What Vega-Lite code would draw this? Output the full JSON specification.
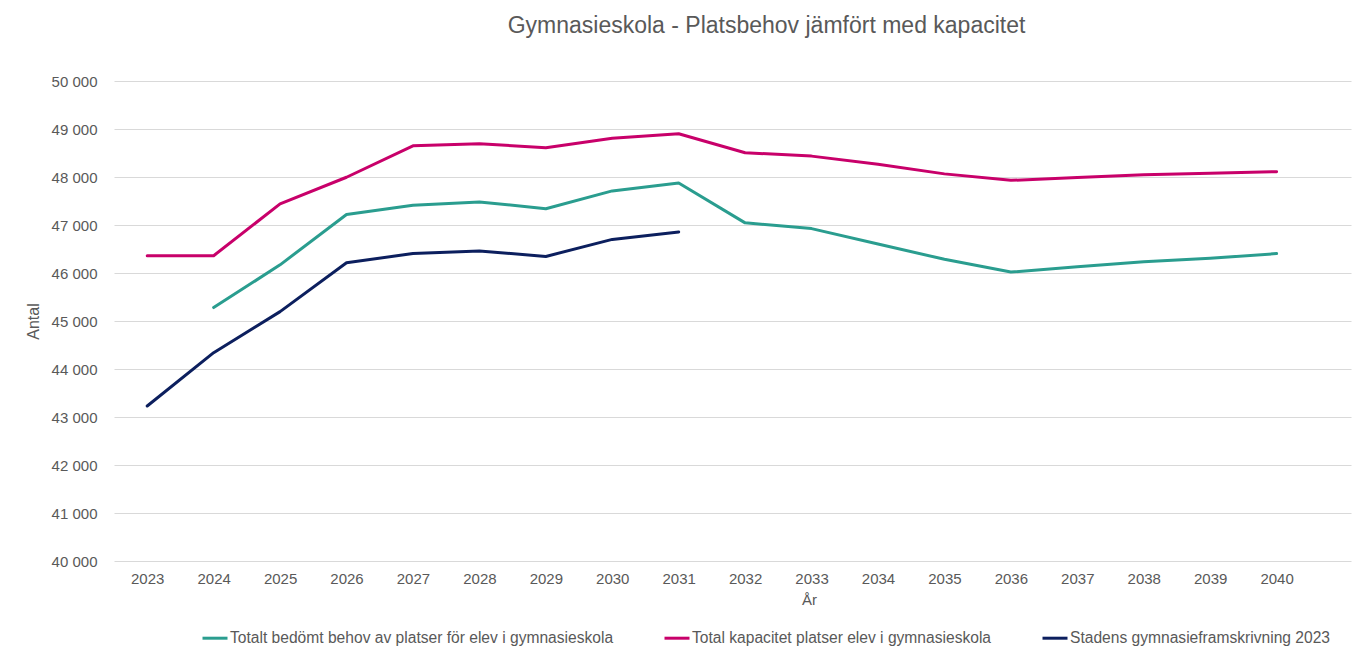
{
  "$schema": "https://vega.github.io/schema/vega-lite/v6.json",
  "width": 1237,
  "height": 480,
  "autosize": {"type": "none"},
  "padding": {"left": 114, "top": 81, "right": 6, "bottom": 88},
  "background": "white",
  "config": {
    "font": "Liberation Sans",
    "view": {"stroke": null}
  },
  "title": {
    "text": "Gymnasieskola - Platsbehov jämfört med kapacitet",
    "anchor": "middle",
    "frame": "group",
    "dx": 34,
    "offset": 36,
    "fontSize": 23,
    "fontWeight": "normal",
    "color": "#595959",
    "font": "Liberation Sans"
  },
  "data": {
    "values": [
      {"year": 2023, "serie": "Total kapacitet platser elev i gymnasieskola", "value": 46360},
      {"year": 2024, "serie": "Total kapacitet platser elev i gymnasieskola", "value": 46360},
      {"year": 2025, "serie": "Total kapacitet platser elev i gymnasieskola", "value": 47440},
      {"year": 2026, "serie": "Total kapacitet platser elev i gymnasieskola", "value": 47995},
      {"year": 2027, "serie": "Total kapacitet platser elev i gymnasieskola", "value": 48650},
      {"year": 2028, "serie": "Total kapacitet platser elev i gymnasieskola", "value": 48695},
      {"year": 2029, "serie": "Total kapacitet platser elev i gymnasieskola", "value": 48610},
      {"year": 2030, "serie": "Total kapacitet platser elev i gymnasieskola", "value": 48805},
      {"year": 2031, "serie": "Total kapacitet platser elev i gymnasieskola", "value": 48900},
      {"year": 2032, "serie": "Total kapacitet platser elev i gymnasieskola", "value": 48505},
      {"year": 2033, "serie": "Total kapacitet platser elev i gymnasieskola", "value": 48435},
      {"year": 2034, "serie": "Total kapacitet platser elev i gymnasieskola", "value": 48265},
      {"year": 2035, "serie": "Total kapacitet platser elev i gymnasieskola", "value": 48065},
      {"year": 2036, "serie": "Total kapacitet platser elev i gymnasieskola", "value": 47930},
      {"year": 2037, "serie": "Total kapacitet platser elev i gymnasieskola", "value": 47990},
      {"year": 2038, "serie": "Total kapacitet platser elev i gymnasieskola", "value": 48045},
      {"year": 2039, "serie": "Total kapacitet platser elev i gymnasieskola", "value": 48080},
      {"year": 2040, "serie": "Total kapacitet platser elev i gymnasieskola", "value": 48110},
      {"year": 2024, "serie": "Totalt bedömt behov av platser för elev i gymnasieskola", "value": 45280},
      {"year": 2025, "serie": "Totalt bedömt behov av platser för elev i gymnasieskola", "value": 46170},
      {"year": 2026, "serie": "Totalt bedömt behov av platser för elev i gymnasieskola", "value": 47220},
      {"year": 2027, "serie": "Totalt bedömt behov av platser för elev i gymnasieskola", "value": 47410},
      {"year": 2028, "serie": "Totalt bedömt behov av platser för elev i gymnasieskola", "value": 47480},
      {"year": 2029, "serie": "Totalt bedömt behov av platser för elev i gymnasieskola", "value": 47340},
      {"year": 2030, "serie": "Totalt bedömt behov av platser för elev i gymnasieskola", "value": 47710},
      {"year": 2031, "serie": "Totalt bedömt behov av platser för elev i gymnasieskola", "value": 47875},
      {"year": 2032, "serie": "Totalt bedömt behov av platser för elev i gymnasieskola", "value": 47045},
      {"year": 2033, "serie": "Totalt bedömt behov av platser för elev i gymnasieskola", "value": 46925},
      {"year": 2034, "serie": "Totalt bedömt behov av platser för elev i gymnasieskola", "value": 46605},
      {"year": 2035, "serie": "Totalt bedömt behov av platser för elev i gymnasieskola", "value": 46285},
      {"year": 2036, "serie": "Totalt bedömt behov av platser för elev i gymnasieskola", "value": 46020},
      {"year": 2037, "serie": "Totalt bedömt behov av platser för elev i gymnasieskola", "value": 46130},
      {"year": 2038, "serie": "Totalt bedömt behov av platser för elev i gymnasieskola", "value": 46235},
      {"year": 2039, "serie": "Totalt bedömt behov av platser för elev i gymnasieskola", "value": 46305},
      {"year": 2040, "serie": "Totalt bedömt behov av platser för elev i gymnasieskola", "value": 46405},
      {"year": 2023, "serie": "Stadens gymnasieframskrivning 2023", "value": 43230},
      {"year": 2024, "serie": "Stadens gymnasieframskrivning 2023", "value": 44340},
      {"year": 2025, "serie": "Stadens gymnasieframskrivning 2023", "value": 45195},
      {"year": 2026, "serie": "Stadens gymnasieframskrivning 2023", "value": 46215},
      {"year": 2027, "serie": "Stadens gymnasieframskrivning 2023", "value": 46405},
      {"year": 2028, "serie": "Stadens gymnasieframskrivning 2023", "value": 46460},
      {"year": 2029, "serie": "Stadens gymnasieframskrivning 2023", "value": 46345},
      {"year": 2030, "serie": "Stadens gymnasieframskrivning 2023", "value": 46700},
      {"year": 2031, "serie": "Stadens gymnasieframskrivning 2023", "value": 46855}
    ]
  },
  "mark": {"type": "line", "strokeWidth": 3, "strokeCap": "round", "strokeJoin": "round"},
  "encoding": {
    "x": {
      "field": "year",
      "type": "quantitative",
      "scale": {"domain": [2022.5, 2041.12], "nice": false, "zero": false},
      "axis": {
        "values": [2023, 2024, 2025, 2026, 2027, 2028, 2029, 2030, 2031, 2032, 2033, 2034, 2035, 2036, 2037, 2038, 2039, 2040],
        "format": "d",
        "grid": false,
        "domain": false,
        "ticks": false,
        "labelFontSize": 15,
        "labelColor": "#595959",
        "labelPadding": 10,
        "title": "År",
        "titleFontSize": 15,
        "titleFontWeight": "normal",
        "titleColor": "#595959",
        "titleX": 695,
        "titleY": 43,
        "titleBaseline": "alphabetic"
      }
    },
    "y": {
      "field": "value",
      "type": "quantitative",
      "scale": {"domain": [40000, 50000], "nice": false, "zero": false},
      "axis": {
        "values": [40000, 41000, 42000, 43000, 44000, 45000, 46000, 47000, 48000, 49000, 50000],
        "labelExpr": "replace(format(datum.value, ','), ',', ' ')",
        "grid": true,
        "gridColor": "#d9d9d9",
        "gridWidth": 1,
        "domain": false,
        "ticks": false,
        "labelFontSize": 15,
        "labelColor": "#595959",
        "labelPadding": 17,
        "title": "Antal",
        "titleFontSize": 16,
        "titleFontWeight": "normal",
        "titleColor": "#595959",
        "titleX": -81,
        "titleY": 240,
        "titleAngle": -90,
        "titleAlign": "center",
        "titleBaseline": "middle"
      }
    },
    "color": {
      "field": "serie",
      "type": "nominal",
      "scale": {
        "domain": ["Totalt bedömt behov av platser för elev i gymnasieskola", "Total kapacitet platser elev i gymnasieskola", "Stadens gymnasieframskrivning 2023"],
        "range": ["#2a9d8f", "#c8006a", "#0c1f5e"]
      },
      "legend": {
        "orient": "none",
        "legendX": 87,
        "legendY": 543,
        "direction": "horizontal",
        "title": null,
        "symbolType": "stroke",
        "symbolSize": 625,
        "symbolStrokeWidth": 3,
        "labelFontSize": 15.6,
        "labelColor": "#595959",
        "labelOffset": 1,
        "columnPadding": 44,
        "labelLimit": 600
      }
    }
  }
}
